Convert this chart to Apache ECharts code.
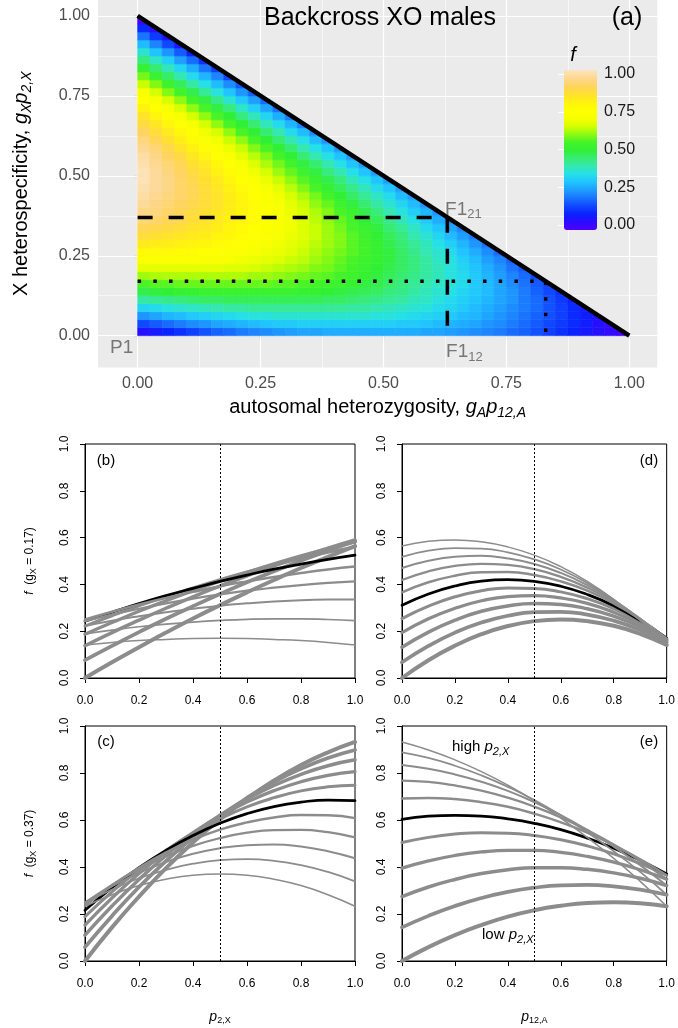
<!DOCTYPE html>
<html>
<head>
<meta charset="utf-8">
<title>Backcross XO males</title>
<script src="https://cdn.jsdelivr.net/npm/echarts@6/dist/echarts.min.js"></script>
<style>
  html, body { margin: 0; padding: 0; background: #fff; }
  #chart { width: 678px; height: 1028px; }
</style>
</head>
<body>
<div id="chart"></div>
<script>
// ---- panel (a): f over the triangle, cells of 0.025 x 0.025 ----
// row j covers y in [j*0.025, (j+1)*0.025], values from x = 0 upwards
const cellStep = 0.025;
const fieldRows = [
  [.06,.08,.10,.12,.14,.16,.18,.19,.21,.22,.23,.24,.25,.26,.26,.27,.27,.27,.27,.27,.27,.27,.27,.26,.26,.25,.24,.23,.22,.21,.19,.18,.16,.14,.12,.10,.08,.06,.04,.01],
  [.15,.17,.19,.21,.23,.24,.26,.27,.28,.29,.30,.31,.31,.32,.32,.32,.32,.32,.32,.32,.32,.31,.31,.30,.29,.28,.27,.26,.24,.23,.21,.19,.17,.15,.13,.11,.09,.06,.04],
  [.24,.26,.28,.29,.31,.32,.33,.34,.35,.36,.36,.37,.37,.37,.37,.37,.37,.37,.37,.36,.36,.35,.34,.33,.32,.31,.29,.28,.26,.24,.22,.20,.18,.16,.14,.11,.09,.06],
  [.33,.34,.36,.37,.38,.39,.40,.41,.41,.42,.42,.42,.42,.42,.42,.42,.42,.41,.41,.40,.39,.38,.37,.36,.34,.33,.31,.29,.27,.25,.23,.21,.19,.16,.14,.11,.08],
  [.41,.42,.43,.44,.45,.46,.46,.47,.47,.47,.47,.47,.47,.47,.47,.46,.46,.45,.44,.43,.42,.41,.39,.38,.36,.34,.32,.30,.28,.26,.24,.21,.19,.16,.13,.10],
  [.48,.49,.50,.51,.51,.52,.52,.52,.52,.52,.52,.52,.52,.51,.51,.50,.49,.48,.47,.46,.44,.43,.41,.39,.37,.35,.33,.31,.29,.26,.24,.21,.18,.15,.12],
  [.55,.56,.56,.57,.57,.57,.57,.57,.57,.57,.57,.56,.56,.55,.54,.53,.52,.51,.49,.48,.46,.44,.42,.40,.38,.36,.34,.31,.29,.26,.23,.20,.17,.14],
  [.61,.62,.62,.62,.62,.62,.62,.62,.62,.61,.61,.60,.59,.58,.57,.56,.54,.53,.51,.49,.47,.45,.43,.41,.39,.36,.34,.31,.28,.25,.22,.19,.15],
  [.67,.67,.67,.67,.67,.67,.67,.66,.66,.65,.64,.63,.62,.61,.59,.58,.56,.54,.52,.50,.48,.46,.44,.41,.39,.36,.33,.30,.27,.24,.20,.17],
  [.72,.72,.72,.72,.72,.71,.71,.70,.69,.68,.67,.66,.64,.63,.61,.59,.57,.55,.53,.51,.49,.46,.44,.41,.38,.35,.32,.29,.25,.22,.18],
  [.77,.77,.77,.76,.76,.75,.74,.73,.72,.71,.69,.68,.66,.64,.62,.60,.58,.56,.54,.51,.49,.46,.43,.40,.37,.34,.30,.27,.23,.19],
  [.82,.81,.81,.80,.79,.78,.77,.76,.74,.73,.71,.69,.67,.65,.63,.61,.59,.56,.54,.51,.48,.45,.42,.39,.35,.32,.28,.24,.20],
  [.86,.85,.84,.83,.82,.81,.79,.78,.76,.74,.72,.70,.68,.66,.64,.61,.59,.56,.53,.50,.47,.44,.40,.37,.33,.29,.25,.21],
  [.89,.88,.87,.86,.84,.83,.81,.79,.77,.75,.73,.71,.69,.66,.64,.61,.58,.55,.52,.49,.45,.42,.38,.34,.30,.26,.22],
  [.92,.91,.89,.88,.86,.84,.82,.80,.78,.76,.74,.71,.69,.66,.63,.60,.57,.54,.50,.47,.43,.39,.35,.31,.27,.23],
  [.94,.93,.91,.89,.87,.85,.83,.81,.79,.76,.74,.71,.68,.65,.62,.59,.55,.52,.48,.44,.40,.36,.32,.28,.24],
  [.96,.94,.92,.90,.88,.86,.84,.81,.79,.76,.73,.70,.67,.64,.60,.57,.53,.49,.45,.41,.37,.33,.29,.24],
  [.97,.95,.93,.91,.89,.86,.84,.81,.78,.75,.72,.69,.65,.62,.58,.54,.50,.46,.42,.38,.34,.29,.25],
  [.98,.96,.94,.91,.89,.86,.83,.80,.77,.74,.70,.67,.63,.59,.55,.51,.47,.43,.39,.34,.30,.25],
  [.99,.96,.94,.91,.88,.85,.82,.79,.75,.72,.68,.64,.60,.56,.52,.48,.44,.39,.35,.30,.25],
  [.99,.96,.93,.90,.87,.84,.80,.77,.73,.69,.65,.61,.57,.53,.49,.44,.40,.35,.30,.25],
  [.98,.95,.92,.89,.85,.82,.78,.74,.70,.66,.62,.58,.54,.49,.45,.40,.35,.30,.25],
  [.97,.94,.90,.87,.83,.79,.75,.71,.67,.63,.59,.54,.50,.45,.40,.35,.30,.25],
  [.95,.92,.88,.84,.80,.76,.72,.68,.64,.59,.55,.50,.45,.40,.35,.30,.24],
  [.93,.89,.85,.81,.77,.73,.69,.64,.60,.55,.50,.45,.40,.35,.29,.24],
  [.90,.86,.82,.78,.74,.69,.65,.60,.55,.50,.45,.40,.34,.29,.23],
  [.87,.83,.79,.74,.70,.65,.60,.55,.50,.45,.39,.34,.28,.22],
  [.84,.79,.75,.70,.65,.60,.55,.50,.44,.39,.33,.27,.21],
  [.80,.75,.70,.65,.60,.55,.49,.44,.38,.32,.26,.20],
  [.75,.70,.65,.60,.54,.49,.43,.37,.31,.25,.19],
  [.70,.65,.59,.54,.48,.42,.36,.30,.24,.18],
  [.64,.59,.53,.47,.41,.35,.29,.23,.17],
  [.58,.52,.46,.40,.34,.28,.22,.15],
  [.51,.45,.39,.33,.27,.20,.14],
  [.44,.38,.32,.25,.19,.12],
  [.37,.30,.24,.17,.10],
  [.29,.22,.15,.08],
  [.20,.13,.06],
  [.11,.04],
  [.01]
];
const gXValues = [0.17, 0.37];          // dotted and dashed boxes
const majorBreaks = [0, 0.25, 0.5, 0.75, 1];
const minorBreaks = [0.125, 0.375, 0.625, 0.875];
// colour stops every 0.05 from f = 0 to f = 1
const fColors = ['#5000ff', '#2a0cff', '#0a22ff', '#1048ff', '#1a74ff', '#1e9eff', '#20c4ff',
                 '#26e0e8', '#34e8b0', '#38ec70', '#30f034', '#48f428', '#90fa10', '#d8ff00',
                 '#f8ff00', '#ffff00', '#fff210', '#ffe030', '#ffd460', '#fdd890', '#fde4c0'];

// ---- panels (b)-(e): rows = p12,A, columns = p2,X ----
const pGrid = [0, 0.1, 0.2, 0.3, 0.4, 0.5, 0.6, 0.7, 0.8, 0.9, 1.0];
const fGx017 = [
  [0.000, 0.067, 0.131, 0.194, 0.254, 0.311, 0.366, 0.419, 0.470, 0.518, 0.564],
  [0.076, 0.137, 0.196, 0.253, 0.307, 0.359, 0.409, 0.456, 0.501, 0.544, 0.584],
  [0.138, 0.194, 0.247, 0.298, 0.347, 0.393, 0.437, 0.479, 0.518, 0.555, 0.590],
  [0.187, 0.237, 0.285, 0.330, 0.373, 0.414, 0.452, 0.488, 0.522, 0.553, 0.582],
  [0.222, 0.266, 0.308, 0.348, 0.385, 0.420, 0.453, 0.483, 0.511, 0.537, 0.560],
  [0.243, 0.281, 0.318, 0.352, 0.383, 0.413, 0.440, 0.465, 0.487, 0.507, 0.525],
  [0.250, 0.283, 0.314, 0.342, 0.368, 0.392, 0.413, 0.432, 0.449, 0.464, 0.476],
  [0.243, 0.271, 0.296, 0.319, 0.339, 0.357, 0.373, 0.386, 0.397, 0.406, 0.413],
  [0.223, 0.245, 0.264, 0.281, 0.296, 0.309, 0.319, 0.327, 0.332, 0.335, 0.336],
  [0.189, 0.205, 0.219, 0.230, 0.239, 0.246, 0.251, 0.253, 0.253, 0.250, 0.245],
  [0.141, 0.152, 0.160, 0.165, 0.169, 0.170, 0.169, 0.165, 0.160, 0.152, 0.141]
];
const fGx037 = [
  [0.000, 0.143, 0.274, 0.395, 0.504, 0.603, 0.691, 0.768, 0.834, 0.888, 0.932],
  [0.059, 0.192, 0.315, 0.426, 0.526, 0.616, 0.694, 0.762, 0.818, 0.864, 0.898],
  [0.110, 0.234, 0.347, 0.449, 0.540, 0.620, 0.689, 0.747, 0.794, 0.831, 0.856],
  [0.153, 0.268, 0.372, 0.464, 0.546, 0.617, 0.676, 0.725, 0.763, 0.790, 0.806],
  [0.189, 0.294, 0.388, 0.471, 0.544, 0.605, 0.656, 0.695, 0.724, 0.741, 0.748],
  [0.216, 0.312, 0.397, 0.471, 0.534, 0.586, 0.627, 0.657, 0.676, 0.685, 0.682],
  [0.235, 0.322, 0.397, 0.462, 0.516, 0.559, 0.590, 0.611, 0.621, 0.620, 0.608],
  [0.247, 0.324, 0.390, 0.445, 0.490, 0.523, 0.546, 0.557, 0.558, 0.548, 0.526],
  [0.250, 0.318, 0.375, 0.421, 0.456, 0.480, 0.493, 0.496, 0.487, 0.467, 0.437],
  [0.246, 0.304, 0.352, 0.388, 0.414, 0.429, 0.433, 0.426, 0.408, 0.379, 0.339],
  [0.233, 0.282, 0.321, 0.348, 0.365, 0.370, 0.365, 0.348, 0.321, 0.282, 0.233]
];

const fontFam = "'Liberation Sans', Arial, Helvetica, sans-serif";
const xLim = [-0.0806, 1.057];
const yLim = [-0.0995, 1.050];
const greyLine = '#8c8c8c';

const chart = echarts.init(document.getElementById('chart'), null, { renderer: 'canvas' });

// heat cells
const heatData = [];
fieldRows.forEach((row, j) => {
  row.forEach((v, i) => heatData.push([i * cellStep, j * cellStep, v]));
});

function renderCell (params, api) {
  const x0 = api.value(0);
  const y0 = api.value(1);
  const onDiag = x0 + y0 + 2 * cellStep > 1 + 1e-6;
  const pts = onDiag
    ? [[x0, y0], [x0 + cellStep, y0], [x0, y0 + cellStep]]
    : [[x0, y0], [x0 + cellStep, y0], [x0 + cellStep, y0 + cellStep], [x0, y0 + cellStep]];
  const c = api.visual('color');
  return {
    type: 'polygon',
    shape: { points: pts.map((p) => api.coord(p)) },
    style: { fill: c, stroke: c, lineWidth: 0.6 },
  };
}

const series = [];
// gridlines of panel (a)
series.push({
  type: 'lines', coordinateSystem: 'cartesian2d', xAxisIndex: 0, yAxisIndex: 0,
  silent: true, z: 1, lineStyle: { color: '#ffffff', width: 1.2, opacity: 1 },
  data: majorBreaks.flatMap((b) => [
    { coords: [[b, yLim[0]], [b, yLim[1]]] },
    { coords: [[xLim[0], b], [xLim[1], b]] },
  ]),
});
series.push({
  type: 'lines', coordinateSystem: 'cartesian2d', xAxisIndex: 0, yAxisIndex: 0,
  silent: true, z: 1, lineStyle: { color: '#ffffff', width: 0.6, opacity: 1 },
  data: minorBreaks.flatMap((b) => [
    { coords: [[b, yLim[0]], [b, yLim[1]]] },
    { coords: [[xLim[0], b], [xLim[1], b]] },
  ]),
});
// heat (series index 2)
series.push({
  type: 'custom', coordinateSystem: 'cartesian2d', xAxisIndex: 0, yAxisIndex: 0,
  z: 2, silent: true, renderItem: renderCell, data: heatData,
  dimensions: ['x', 'y', 'f'], encode: { x: 0, y: 1 },
});
// diagonal edge
series.push({
  type: 'line', xAxisIndex: 0, yAxisIndex: 0, z: 5, silent: true, symbol: 'none',
  lineStyle: { color: '#000', width: 4.5 }, data: [[0, 1], [1, 0]],
});
// dotted (gX = 0.17) and dashed (gX = 0.37) boxes
series.push({
  type: 'line', xAxisIndex: 0, yAxisIndex: 0, z: 5, silent: true, symbol: 'none',
  lineStyle: { color: '#000', width: 3.5, type: [3.5, 12.2], cap: 'butt' },
  data: [[0, gXValues[0]], [1 - gXValues[0], gXValues[0]], [1 - gXValues[0], 0]],
});
series.push({
  type: 'line', xAxisIndex: 0, yAxisIndex: 0, z: 5, silent: true, symbol: 'none',
  lineStyle: { color: '#000', width: 3.5, type: [15, 16], cap: 'butt' },
  data: [[0, gXValues[1]], [1 - gXValues[1], gXValues[1]], [1 - gXValues[1], 0]],
});
// point labels
const grey = '#595959';
const subRich = { s: { fontSize: 13, color: grey, lineHeight: 12, verticalAlign: 'bottom', fontFamily: fontFam } };
series.push({
  type: 'scatter', xAxisIndex: 0, yAxisIndex: 0, z: 6, silent: true,
  symbolSize: 0.1, itemStyle: { color: 'transparent' },
  label: { show: true, position: 'inside', fontSize: 19, color: grey, lineHeight: 24, fontFamily: fontFam, rich: subRich },
  data: [
    { value: [0, 0], label: { formatter: 'P1', offset: [-16, 12] } },
    { value: [1 - gXValues[1], gXValues[1]], label: { formatter: 'F1{s|21}', offset: [16, -8] } },
    { value: [1 - gXValues[1], 0], label: { formatter: 'F1{s|12}', offset: [17, 16] } },
  ],
});

// ---- bottom panels ----
function widthFor (p) { return 4 - 2.5 * p; }
function addPanel (gi, matrix, byRow) {
  pGrid.forEach((p, k) => {
    const data = pGrid.map((q, m) => [q, byRow ? matrix[k][m] : matrix[m][k]]);
    const s = {
      type: 'line', xAxisIndex: gi, yAxisIndex: gi, silent: true, symbol: 'none',
      smooth: true, data,
      lineStyle: { color: k === 5 ? '#000' : greyLine, width: widthFor(p), cap: 'round' },
    };
    if (k === 0) {
      s.markLine = {
        silent: true, symbol: 'none', label: { show: false },
        lineStyle: { color: '#000', width: 1, type: [2, 2] },
        data: [{ xAxis: 0.5 }],
      };
    }
    series.push(s);
  });
}
addPanel(1, fGx017, true);   // (b) curves per p12,A against p2,X
addPanel(2, fGx017, false);  // (d) curves per p2,X against p12,A
addPanel(3, fGx037, true);   // (c)
addPanel(4, fGx037, false);  // (e)

const panelGrids = [
  { left: 85, top: 444, width: 270, height: 234 },
  { left: 402, top: 444, width: 270, height: 234 },
  { left: 85, top: 726, width: 270, height: 235 },
  { left: 402, top: 726, width: 270, height: 235 },
];

const italicRich = {
  i: { fontStyle: 'italic', fontFamily: fontFam },
  s: { fontSize: 9, lineHeight: 8, verticalAlign: 'bottom', fontFamily: fontFam },
};

function panelX (gi, name) {
  return {
    type: 'value', gridIndex: gi, min: 0, max: 1, interval: 0.2,
    axisLine: { show: true, onZero: false, lineStyle: { color: '#000', width: 1 } },
    axisTick: { show: true, length: 5, lineStyle: { color: '#000' } },
    axisLabel: { fontSize: 12, color: '#000', margin: 17, fontFamily: fontFam,
      showMinLabel: true, showMaxLabel: true, formatter: (v) => v.toFixed(1) },
    splitLine: { show: false },
    name: name || '', nameLocation: 'middle', nameGap: 48,
    nameTextStyle: { fontSize: 13, color: '#000', fontFamily: fontFam, lineHeight: 16,
      rich: { i: { fontStyle: 'italic', fontSize: 14, fontFamily: fontFam },
              s: { fontSize: 9, lineHeight: 8, verticalAlign: 'bottom', fontFamily: fontFam } } },
  };
}
function panelY (gi, name) {
  return {
    type: 'value', gridIndex: gi, min: 0, max: 1, interval: 0.2,
    axisLine: { show: true, onZero: false, lineStyle: { color: '#000', width: 1 } },
    axisTick: { show: true, length: 5, lineStyle: { color: '#000' } },
    axisLabel: { fontSize: 12, color: '#000', margin: 14, rotate: 90, fontFamily: fontFam,
      showMinLabel: true, showMaxLabel: true, formatter: (v) => v.toFixed(1) },
    splitLine: { show: false },
    name: name || '', nameLocation: 'middle', nameGap: 47, nameRotate: 90,
    nameTextStyle: { fontSize: 12, color: '#000', fontFamily: fontFam, lineHeight: 16, rich: italicRich },
  };
}

const tickFmt = (v) => v.toFixed(2);
const txt = (x, y, text, size, extra) => ({
  type: 'text', x, y, z: 100, silent: true,
  style: Object.assign({ text, fontSize: size, fill: '#000', align: 'center', verticalAlign: 'middle', fontFamily: fontFam }, extra || {}),
});
const pRich = {
  i: { fontStyle: 'italic', fontSize: 15, fontFamily: fontFam },
  s: { fontStyle: 'italic', fontSize: 11, lineHeight: 10, verticalAlign: 'bottom', fontFamily: fontFam },
};

const option = {
  animation: false,
  backgroundColor: '#ffffff',
  textStyle: { fontFamily: fontFam },
  grid: [
    { left: 92.7, top: 0, width: 564.6, height: 367.5, show: true, backgroundColor: '#EBEBEB', borderWidth: 0 },
    ...panelGrids.map((g) => Object.assign({ show: true, borderColor: '#000', borderWidth: 1 }, g)),
    { left: 564, top: 74, width: 33, height: 151, show: false },
  ],
  xAxis: [
    {
      type: 'value', gridIndex: 0, min: xLim[0], max: xLim[1],
      axisLine: { show: false },
      axisTick: { show: true, customValues: majorBreaks, length: 4, lineStyle: { color: '#333333', width: 1.1 } },
      axisLabel: { customValues: majorBreaks, formatter: tickFmt, color: '#4d4d4d', fontSize: 16, margin: 8 },
      splitLine: { show: false },
      name: 'autosomal heterozygosity, {i|g}{is|A}{i|p}{is|12,A}',
      nameLocation: 'middle', nameGap: 27,
      nameTextStyle: { fontSize: 20, color: '#000', lineHeight: 26, fontFamily: fontFam,
        rich: { i: { fontStyle: 'italic', fontSize: 20, fontFamily: fontFam },
                is: { fontStyle: 'italic', fontSize: 14, lineHeight: 12, verticalAlign: 'bottom', fontFamily: fontFam } } },
    },
    panelX(1), panelX(2), panelX(3, '{i|p}{s|2,X}'), panelX(4, '{i|p}{s|12,A}'),
    { type: 'value', gridIndex: 5, min: 0, max: 1, show: false },
  ],
  yAxis: [
    {
      type: 'value', gridIndex: 0, min: yLim[0], max: yLim[1],
      axisLine: { show: false },
      axisTick: { show: true, customValues: majorBreaks, length: 4, lineStyle: { color: '#333333', width: 1.1 } },
      axisLabel: { customValues: majorBreaks, formatter: tickFmt, color: '#4d4d4d', fontSize: 16, margin: 8 },
      splitLine: { show: false },
      name: 'X heterospecificity, {i|g}{is|X}{i|p}{is|2,X}',
      nameLocation: 'middle', nameGap: 64, nameRotate: 90,
      nameTextStyle: { fontSize: 20, color: '#000', lineHeight: 26, fontFamily: fontFam,
        rich: { i: { fontStyle: 'italic', fontSize: 20, fontFamily: fontFam },
                is: { fontStyle: 'italic', fontSize: 14, lineHeight: 12, verticalAlign: 'bottom', fontFamily: fontFam } } },
    },
    panelY(1, '{i|f}  (g{s|X} = 0.17)'), panelY(2), panelY(3, '{i|f}  (g{s|X} = 0.37)'), panelY(4),
    {
      type: 'value', gridIndex: 5, min: 0, max: 1, interval: 0.25, position: 'right', z: 10,
      axisLine: { show: false },
      axisTick: { show: true, inside: true, length: 6, lineStyle: { color: '#ffffff', width: 1 } },
      axisLabel: { fontSize: 16, color: '#1a1a1a', margin: 7, formatter: tickFmt },
      splitLine: { show: false },
    },
  ],
  visualMap: [{
    type: 'continuous', min: 0, max: 1, dimension: 2, seriesIndex: 2,
    inRange: { color: fColors }, itemWidth: 33, itemHeight: 160,
    left: 564, top: 70, padding: 0, calculable: false, hoverLink: false, text: null,
  }],
  graphic: [
    txt(380, 18, 'Backcross XO males', 25),
    txt(627, 18, '(a)', 25),
    txt(573, 55, 'f', 20, { fontStyle: 'italic' }),
    txt(106, 461, '(b)', 15),
    txt(649, 461, '(d)', 15),
    txt(106, 742, '(c)', 15),
    txt(649, 742, '(e)', 15),
    txt(452, 747, 'high {i|p}{s|2,X}', 15, { align: 'left', lineHeight: 20, rich: pRich }),
    txt(482, 935, 'low {i|p}{s|2,X}', 15, { align: 'left', lineHeight: 20, rich: pRich }),
  ],
  series,
};

chart.setOption(option);
</script>
</body>
</html>
